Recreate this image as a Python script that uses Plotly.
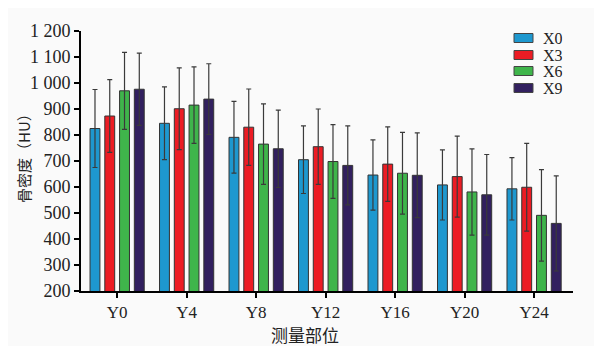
import plotly.graph_objects as go

categories = ["Y0", "Y4", "Y8", "Y12", "Y16", "Y20", "Y24"]
series_names = ["X0", "X3", "X6", "X9"]
x0_vals = [825, 845, 791, 705, 646, 608, 593]
x0_err = [150, 140, 138, 130, 135, 135, 120]
x3_vals = [873, 901, 830, 755, 688, 640, 599]
x3_err = [140, 157, 147, 145, 143, 156, 169]
x6_vals = [970, 915, 765, 698, 653, 581, 491]
x6_err = [148, 147, 155, 142, 157, 166, 176]
x9_vals = [976, 938, 747, 683, 645, 570, 460]
x9_err = [139, 136, 149, 152, 163, 155, 183]
y_tickvals = [200, 300, 400, 500, 600, 700, 800, 900, 1000, 1100, 1200]
y_ticktext = ["200", "300", "400", "500", "600", "700", "800", "900", "1 000", "1 100", "1 200"]

values = [x0_vals, x3_vals, x6_vals, x9_vals]
errors = [x0_err, x3_err, x6_err, x9_err]
colors = ["#1e98cf", "#ec1c24", "#3fb54b", "#32205f"]

serif = "Liberation Serif"
cjk = "Noto Sans CJK SC"

fig = go.Figure()
for name, v, e, c in zip(series_names, values, errors, colors):
    fig.add_trace(go.Bar(
        name=name, x=categories, y=v,
        marker=dict(color=c, line=dict(color="#333333", width=1)),
        error_y=dict(type="data", array=e, visible=True, color="#3a3a3a",
                     thickness=1.2, width=2.5),
        showlegend=False,
    ))

# plot area in reference pixels: x 81..573, y 31..291 (page body has an 8px margin)
PX0, PX1, PY0, PY1 = 81, 573, 31, 291
def px(x):
    return (x - PX0) / (PX1 - PX0)
def py(y):
    return (PY1 - y) / (PY1 - PY0)

shapes = []
annotations = []
legend_y = [38, 55, 71, 88]
for name, c, ly in zip(series_names, colors, legend_y):
    shapes.append(dict(type="rect", xref="paper", yref="paper",
                       x0=px(514), x1=px(533), y0=py(ly - 4.5), y1=py(ly + 4.5),
                       fillcolor=c, line=dict(color="#444", width=1)))
    annotations.append(dict(text=name, xref="paper", yref="paper",
                            x=px(541), y=py(ly), xanchor="left", yanchor="middle",
                            height=16, valign="middle",
                            showarrow=False, font=dict(family=serif, size=16, color="#222")))

annotations.append(dict(text="测量部位", xref="paper", yref="paper",
                        x=px(305), y=py(334), xanchor="center", yanchor="middle",
                        showarrow=False, font=dict(family=cjk, size=17, color="#222")))
annotations.append(dict(text="骨密度（HU）", xref="paper", yref="paper",
                        x=px(23), y=py(155), xanchor="center", yanchor="middle", textangle=-90,
                        showarrow=False, font=dict(family=cjk, size=15, color="#222")))

fig.update_layout(
    width=594, height=338,
    paper_bgcolor="#fafafa", plot_bgcolor="#fafafa",
    margin=dict(l=73, r=29, t=23, b=55, autoexpand=False),
    barmode="group", bargap=0.15, bargroupgap=0.33,
    showlegend=False,
    font=dict(family=serif, color="#222"),
    shapes=shapes, annotations=annotations,
)
fig.update_xaxes(
    automargin=False,
    showline=True, linecolor="#000", linewidth=2, showgrid=False,
    ticks="outside", ticklen=5, tickwidth=2, tickcolor="#000",
    range=[-0.52, 6.56],
    tickfont=dict(family=serif, size=17, color="#222"),
)
fig.update_yaxes(
    automargin=False,
    showline=True, linecolor="#000", linewidth=2, showgrid=False, zeroline=False,
    ticks="outside", ticklen=5, tickwidth=2, tickcolor="#000",
    range=[200, 1200], tickvals=y_tickvals, ticktext=y_ticktext,
    tickfont=dict(family=serif, size=18, color="#222"),
)
fig.write_html("out.html")
